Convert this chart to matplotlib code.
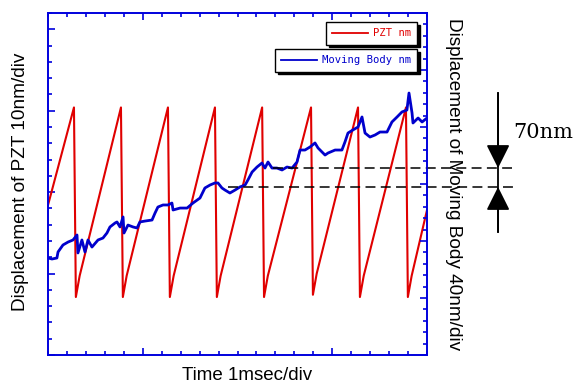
# -*- coding: utf-8 -*-
"""
PZT / Moving Body displacement vs time (stick-slip waveform)
"""

import matplotlib
matplotlib.use('Agg')
import matplotlib.pyplot as plt
from matplotlib.lines import Line2D
from matplotlib.ticker import MultipleLocator, FixedLocator
from matplotlib.font_manager import FontProperties

# ---- data ----
# PZT sawtooth: time of each peak [div], peak / bottom level [left div]
pzt_peak_t = [1.37, 3.85, 6.33, 8.81, 11.30, 13.88, 16.36, 18.89]
pzt_peak_v = [15.2, 15.2, 15.2, 15.2, 15.2, 15.2, 15.2, 15.2]
pzt_bottom_v = [3.56, 3.56, 3.56, 3.56, 3.56, 3.70, 3.56, 3.56]
pzt_start_v = 9.2
pzt_end_v = 8.9

# Moving body trace: time [div], displacement [right div]
body_t = [0.00, 0.21, 0.47, 0.53, 0.79, 1.06, 1.32, 1.53, 1.58, 1.79,
          1.95, 2.11, 2.32, 2.64, 2.90, 3.11, 3.27, 3.54, 3.64, 3.80,
          3.96, 4.01, 4.22, 4.49, 4.70, 4.85, 5.12, 5.49, 5.65, 5.80,
          6.07, 6.33, 6.54, 6.60, 6.97, 7.34, 7.65, 8.02, 8.28, 8.55,
          8.81, 8.97, 9.18, 9.34, 9.60, 9.87, 10.13, 10.40, 10.55, 10.77,
          11.03, 11.29, 11.45, 11.61, 11.82, 12.08, 12.35, 12.61, 12.88, 13.14,
          13.30, 13.56, 13.83, 14.09, 14.25, 14.62, 14.78, 15.15, 15.51, 15.67,
          15.83, 16.09, 16.36, 16.57, 16.73, 16.99, 17.26, 17.52, 17.89, 18.15,
          18.42, 18.68, 18.94, 19.05, 19.21, 19.26, 19.53, 19.74, 20.00]
body_v = [8.51, 8.42, 8.51, 9.04, 9.65, 9.91, 10.09, 10.53, 8.95, 10.09,
          9.04, 10.09, 9.47, 10.09, 10.26, 10.70, 11.23, 11.58, 11.67, 11.23,
          12.11, 10.70, 11.40, 11.23, 11.14, 11.67, 11.75, 11.84, 12.46, 12.98,
          13.16, 13.16, 13.33, 12.72, 12.89, 12.89, 13.33, 13.77, 14.65, 14.91,
          15.09, 15.09, 14.65, 14.47, 14.21, 14.47, 14.74, 14.91, 15.35, 16.05,
          16.49, 16.84, 16.40, 16.93, 16.40, 16.40, 16.23, 16.49, 16.40, 16.93,
          17.98, 17.98, 18.25, 18.60, 18.16, 17.54, 17.72, 17.98, 17.98, 18.68,
          19.47, 19.74, 20.00, 20.88, 19.47, 19.12, 19.30, 19.56, 19.56, 20.44,
          20.88, 21.32, 21.49, 22.98, 21.23, 20.35, 20.79, 20.44, 20.79]

# 70nm marker levels [right div]
dash_levels = [16.40, 14.74]
dash_start = [11.87, 9.50]
dash_end = [24.50, 24.75]
arrow_x = 23.75
arrow_top, arrow_bottom = 22.98, 10.79

RED = '#E00000'
BLUE = '#0000CC'
SPINE = '#0000DD'

# build sawtooth vertices
pzt_t = [0.0]
pzt_v = [pzt_start_v]
for t, pk, bt in zip(pzt_peak_t, pzt_peak_v, pzt_bottom_v):
    pzt_t += [t, t + 0.10, t + 0.30]
    pzt_v += [pk, bt, bt + 1.3]
pzt_t.append(20.0)
pzt_v.append(pzt_end_v)

plt.rcParams['font.family'] = ['Liberation Sans', 'DejaVu Sans']

fig = plt.figure(figsize=(5.76, 3.86), dpi=100)
ax = fig.add_axes([48 / 576, 31 / 386, 379 / 576, 342 / 386])
ax2 = ax.twinx()

ax.plot(pzt_t, pzt_v, color=RED, lw=1.5)
ax2.plot(body_t, body_v, color=BLUE, lw=2.0)

ax.set_xlim(0, 20)
ax.set_ylim(0, 21)
ax2.set_ylim(0, 30)

ax.xaxis.set_major_locator(FixedLocator([5, 15]))
ax.xaxis.set_minor_locator(MultipleLocator(1))
ax.yaxis.set_major_locator(MultipleLocator(5))
ax.yaxis.set_minor_locator(MultipleLocator(1))
ax2.yaxis.set_major_locator(MultipleLocator(5))
ax2.yaxis.set_minor_locator(MultipleLocator(1))

ax.tick_params(which='both', direction='in', top=True, bottom=True,
               left=True, right=False, labelbottom=False, labelleft=False,
               color=SPINE, width=1.2)
ax.tick_params(which='major', length=5)
ax.tick_params(which='minor', length=3)
ax2.tick_params(which='both', direction='in', right=True, labelright=False,
                color=SPINE, width=1.2)
ax2.tick_params(which='major', length=5)
ax2.tick_params(which='minor', length=3)

for a in (ax, ax2):
    for sp in a.spines.values():
        sp.set_color(SPINE)
        sp.set_linewidth(1.2)

# dashed reference lines and 70nm arrows
for lv, x0, x1 in zip(dash_levels, dash_start, dash_end):
    ax2.plot([x0, x1], [lv, lv], color='black', lw=1.1, dashes=(6.5, 3.5),
             clip_on=False)
ax2.plot([arrow_x, arrow_x], [arrow_bottom, arrow_top], color='black', lw=1.3,
         clip_on=False)
head = dict(arrowstyle='-|>,head_length=0.72,head_width=0.36', color='black',
            lw=1.3, mutation_scale=20, shrinkA=0, shrinkB=0)
ax2.annotate('', xy=(arrow_x, dash_levels[0]), xytext=(arrow_x, arrow_top),
             arrowprops=head, annotation_clip=False)
ax2.annotate('', xy=(arrow_x, dash_levels[1]), xytext=(arrow_x, arrow_bottom),
             arrowprops=head, annotation_clip=False)
fig.text(543 / 576, 1 - 132 / 386, '70nm', family='DejaVu Serif', fontsize=15,
         ha='center', va='center')

# legends (two separate boxes)
mono = FontProperties(family='DejaVu Sans Mono', size=7.6)
leg_kw = dict(loc='upper right', prop=mono, handlelength=3.4,
              handletextpad=0.4, borderpad=0.6, borderaxespad=0,
              frameon=True, fancybox=False, framealpha=1, edgecolor='black',
              shadow={'color': 'black', 'alpha': 1}, labelcolor='linecolor')
leg1 = ax2.legend([Line2D([], [], color=RED, lw=1.3)], ['PZT nm'],
                  bbox_to_anchor=(0.974, 0.974), **leg_kw)
leg1.get_frame().set_linewidth(1.0)
ax2.add_artist(leg1)
leg2 = ax2.legend([Line2D([], [], color=BLUE, lw=1.3)], ['Moving Body nm'],
                  bbox_to_anchor=(0.974, 0.895), **leg_kw)
leg2.get_frame().set_linewidth(1.0)

# axis titles
fig.text(21 / 576, 1 - 182 / 386, 'Displacement of PZT 10nm/div',
         rotation=90, fontsize=13.7, ha='center', va='center')
fig.text(453 / 576, 1 - 184 / 386, 'Displacement of Moving Body 40nm/div',
         rotation=270, fontsize=13.7, ha='center', va='center')
fig.text(247 / 576, 1 - 376 / 386, 'Time 1msec/div', fontsize=13.5,
         ha='center', va='center')

fig.savefig('out.png', dpi=100)
